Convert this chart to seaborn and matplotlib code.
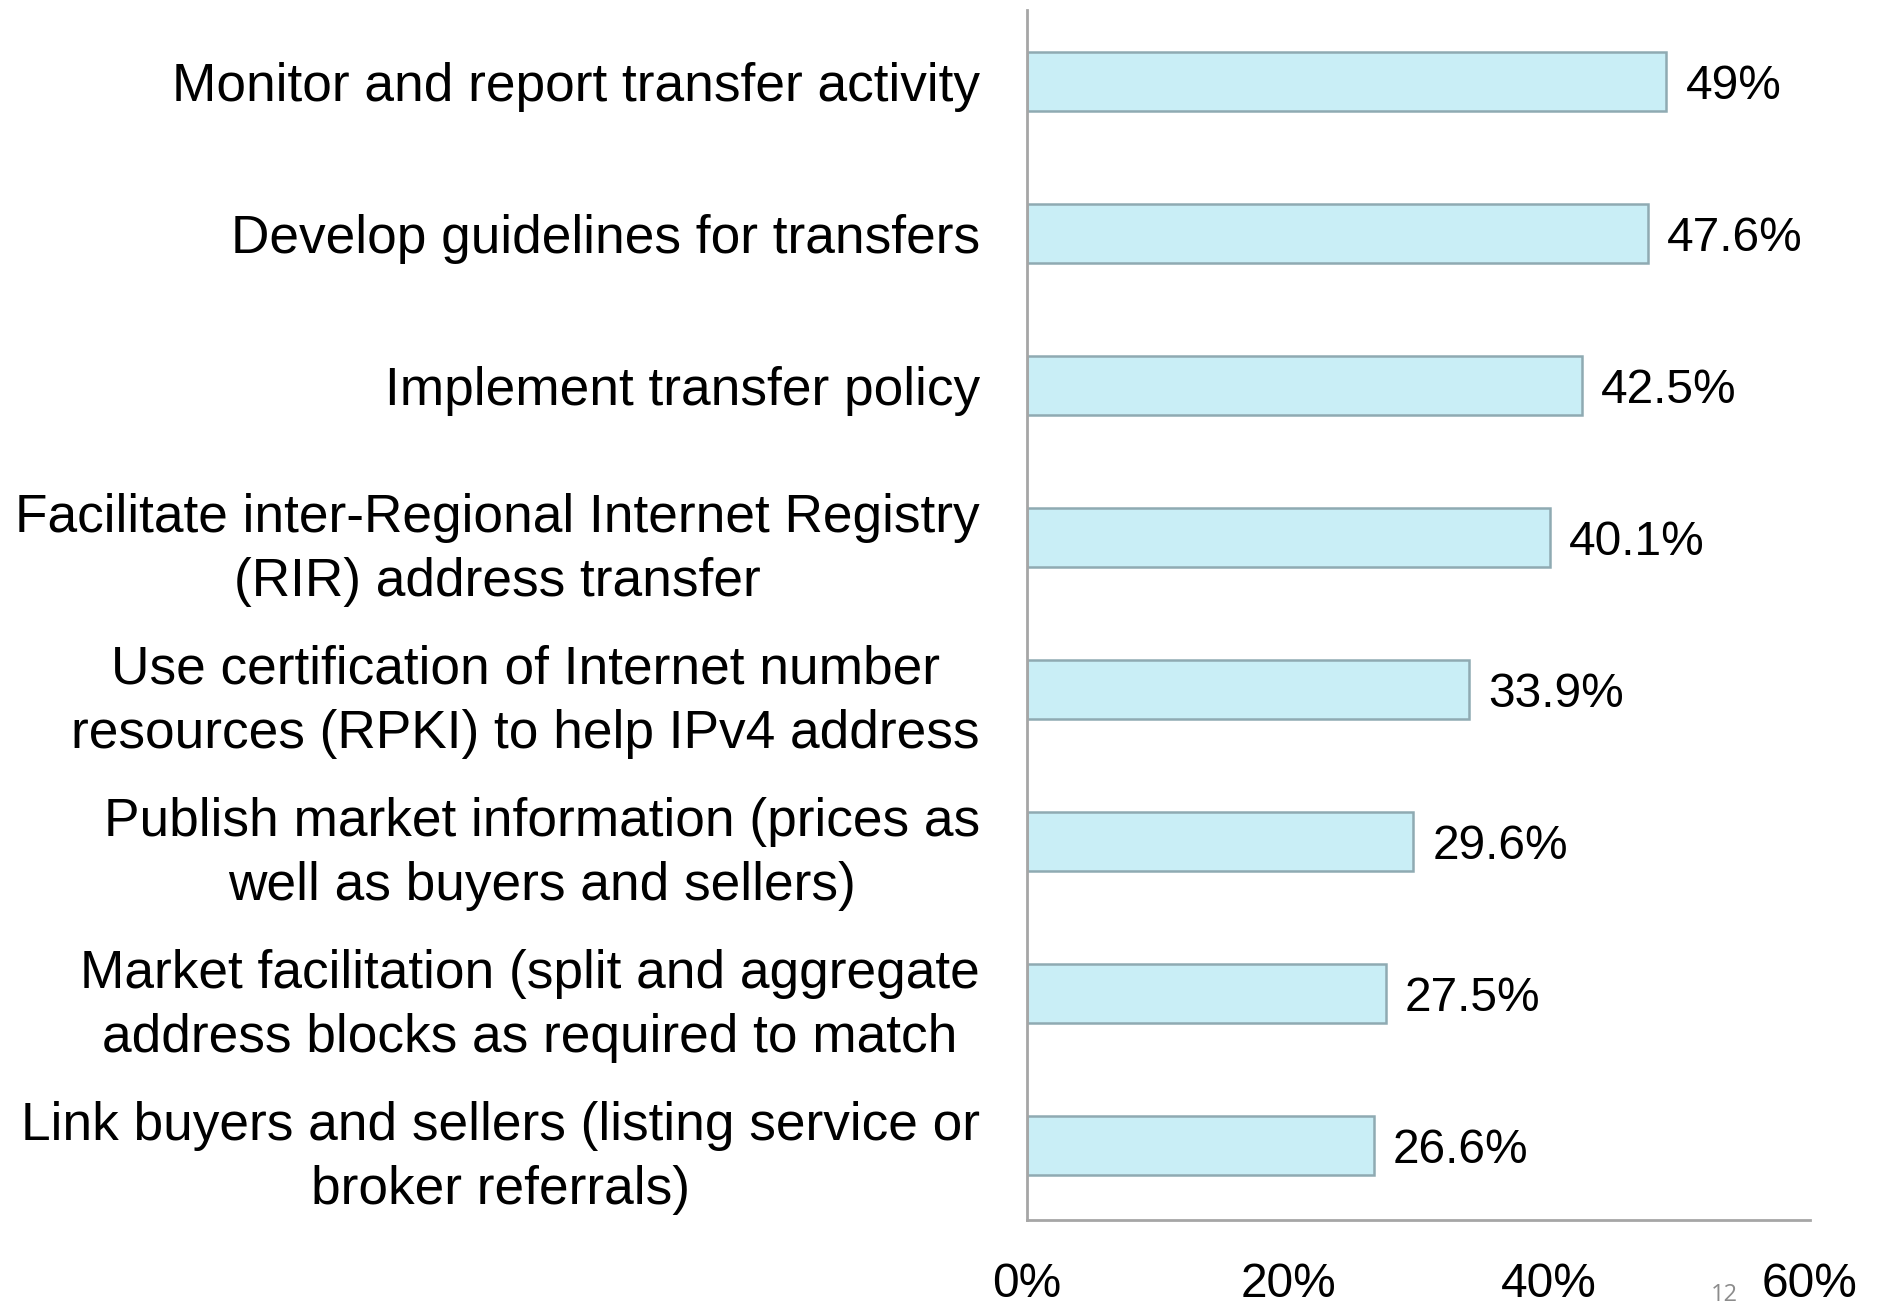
import matplotlib
matplotlib.use("Agg")
import matplotlib.pyplot as plt
import seaborn as sns
import pandas as pd

categories = [
    "Monitor and report transfer activity",
    "Develop guidelines for transfers",
    "Implement transfer policy",
    "Facilitate inter-Regional Internet Registry\n(RIR) address transfer",
    "Use certification of Internet number\nresources (RPKI) to help IPv4 address",
    "Publish market information (prices as\nwell as buyers and sellers)",
    "Market facilitation (split and aggregate\naddress blocks as required to match",
    "Link buyers and sellers (listing service or\nbroker referrals)",
]
values = [49.0, 47.6, 42.5, 40.1, 33.9, 29.6, 27.5, 26.6]
value_labels = ["49%", "47.6%", "42.5%", "40.1%", "33.9%", "29.6%", "27.5%", "26.6%"]
x_ticks = [0, 20, 40, 60]
x_tick_labels = ["0%", "20%", "40%", "60%"]

df = pd.DataFrame({"category": categories, "value": values})

sns.set_theme(style="white")
FONT = ["Liberation Sans", "DejaVu Sans"]
plt.rcParams["font.family"] = FONT
plt.rcParams["text.color"] = "black"
plt.rcParams["xtick.color"] = "black"
plt.rcParams["ytick.color"] = "black"

fig = plt.figure(figsize=(18.79, 13.10), dpi=100)
ax = fig.add_axes([0.5466, 0.0687, 0.9633 - 0.5466, 0.9924 - 0.0687])

sns.barplot(data=df, y="category", x="value", orient="h", ax=ax,
            color="#C9EEF6", edgecolor="#8FAAB2", linewidth=1.8,
            width=0.39, saturation=1)

fs = 34.5
fs_cat = 38.3
for i, (v, lab) in enumerate(zip(values, value_labels)):
    ax.text(v + 1.45, i, lab, va="center_baseline", ha="left", fontsize=fs,
            color="black", family=FONT)

ax.set_xlim(0, 60)
ax.set_ylim(7.49, -0.47)
ax.set_xticks(x_ticks)
ax.set_xticklabels(x_tick_labels, fontsize=fs, family=FONT, color="black")
ax.set_yticks(range(len(categories)))
ax.set_yticklabels(categories, fontsize=fs_cat, family=FONT, color="black",
                   multialignment="center", linespacing=1.36)
ax.tick_params(axis="y", length=0, pad=34)
ax.tick_params(axis="x", length=0, pad=30)
ax.set_xlabel("")
ax.set_ylabel("")
for s in ["top", "right"]:
    ax.spines[s].set_visible(False)
for s in ["left", "bottom"]:
    ax.spines[s].set_color("#A6A6A6")
    ax.spines[s].set_linewidth(2)

fig.text(1724 / 1879, 3 / 1310, "12", fontsize=17, color="#8C8C8C",
         ha="center", va="bottom", family=["Open Sans", "DejaVu Sans"])

fig.savefig("out.png", dpi=100, facecolor="white")
